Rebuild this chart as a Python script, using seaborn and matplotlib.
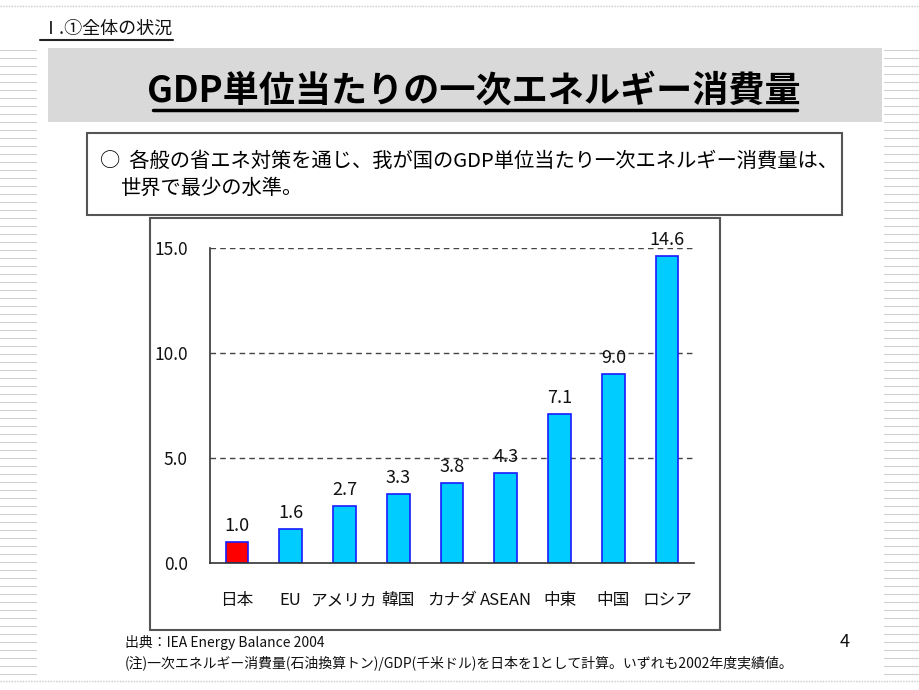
import matplotlib
matplotlib.use("Agg")
import matplotlib.pyplot as plt
import seaborn as sns
from matplotlib.patches import Rectangle
from matplotlib.lines import Line2D
import numpy as np

categories = ["日本", "EU", "アメリカ", "韓国", "カナダ", "ASEAN", "中東", "中国", "ロシア"]
values = [1.0, 1.6, 2.7, 3.3, 3.8, 4.3, 7.1, 9.0, 14.6]
bar_colors = ["#ff0000"] + ["#00ccff"] * 8
y_ticks = [0.0, 5.0, 10.0, 15.0]

sns.set_theme(style="white")
plt.rcParams["font.family"] = ["Noto Sans CJK JP", "DejaVu Sans"]

W, H = 920, 690
fig = plt.figure(figsize=(W / 100, H / 100), dpi=100)
fig.patch.set_facecolor("white")

def fx(x):
    return x / W

def fy(y):
    return 1 - y / H

# decorative slide edges
for y in range(50, 680, 8):
    fig.add_artist(Line2D([fx(0), fx(36)], [fy(y), fy(y)], color="#d0d0d0", lw=0.8))
    fig.add_artist(Line2D([fx(884), fx(920)], [fy(y), fy(y)], color="#d0d0d0", lw=0.8))
fig.add_artist(Line2D([0, 1], [fy(6), fy(6)], color="#c8c8c8", lw=1, ls=(0, (1, 1))))
fig.add_artist(Line2D([0, 1], [fy(681), fy(681)], color="#c8c8c8", lw=1, ls=(0, (1, 1))))

# section header
fig.text(fx(42), fy(29), "Ⅰ.①全体の状況", fontsize=13, ha="left", va="center", color="#111111")
fig.add_artist(Line2D([fx(40), fx(173)], [fy(40), fy(40)], color="#222222", lw=1.5))

# title banner
fig.add_artist(Rectangle((fx(48), fy(122)), fx(882) - fx(48), fy(48) - fy(122),
                         facecolor="#d9d9d9", edgecolor="none", zorder=-5))
fig.text(fx(474), fy(91), "GDP単位当たりの一次エネルギー消費量", fontsize=26, fontweight="bold",
         ha="center", va="center", color="black")
fig.add_artist(Line2D([fx(153), fx(797)], [fy(110), fy(110)], color="black", lw=2.5))

# statement box
fig.add_artist(Rectangle((fx(87), fy(215)), fx(842) - fx(87), fy(133) - fy(215),
                         facecolor="none", edgecolor="#555555", lw=1.5))
fig.text(fx(100), fy(161), "○  各般の省エネ対策を通じ、我が国のGDP単位当たり一次エネルギー消費量は、",
         fontsize=14.6, ha="left", va="center", color="black")
fig.text(fx(120), fy(188), "世界で最少の水準。", fontsize=14.6, ha="left", va="center", color="black")

# chart frame
fig.add_artist(Rectangle((fx(150), fy(630)), fx(720) - fx(150), fy(218) - fy(630),
                         facecolor="none", edgecolor="#555555", lw=1.5))

ax = fig.add_axes([fx(210), fy(563), fx(694) - fx(210), fy(248) - fy(563)])
ax.set_facecolor("none")
sns.barplot(x=categories, y=values, hue=categories, palette=bar_colors, legend=False,
            width=0.42, edgecolor="#1a1aff", linewidth=1.2, saturation=1, ax=ax)
ax.set_ylim(0, 15)
ax.set_xlim(-0.5, len(categories) - 0.5)
ax.set_yticks(y_ticks)
ax.set_yticklabels([f"{v:.1f}" for v in y_ticks], fontsize=12.5)
for v in y_ticks[1:]:
    ax.axhline(v, color="#444444", lw=1, ls=(0, (4, 3)), zorder=0)
ax.tick_params(axis="y", length=0, pad=16, colors="#111111")
ax.tick_params(axis="x", which="major", length=0, pad=21, labelsize=12, colors="#111111")
ax.set_xticks(np.arange(len(categories)) + 0.5, minor=True)
ax.tick_params(axis="x", which="minor", direction="in", length=5, width=1, color="#333333")
for side in ["top", "right"]:
    ax.spines[side].set_visible(False)
for side in ["left", "bottom"]:
    ax.spines[side].set_color("#333333")
    ax.spines[side].set_linewidth(1.2)
ax.set_xlabel("")
ax.set_ylabel("")
for i, v in enumerate(values):
    ax.annotate(f"{v:.1f}", (i, v), xytext=(0, 5), textcoords="offset points",
                ha="center", va="bottom", fontsize=13, color="#111111")

# footnotes
fig.text(fx(125), fy(642), "出典：IEA Energy Balance 2004", fontsize=10, ha="left", va="center", color="#111111")
fig.text(fx(125), fy(663), "(注)一次エネルギー消費量(石油換算トン)/GDP(千米ドル)を日本を1として計算。いずれも2002年度実績値。",
         fontsize=10, ha="left", va="center", color="#111111")
fig.text(fx(845), fy(642), "4", fontsize=13, ha="center", va="center", color="#111111")

fig.savefig("out.png", dpi=100)
